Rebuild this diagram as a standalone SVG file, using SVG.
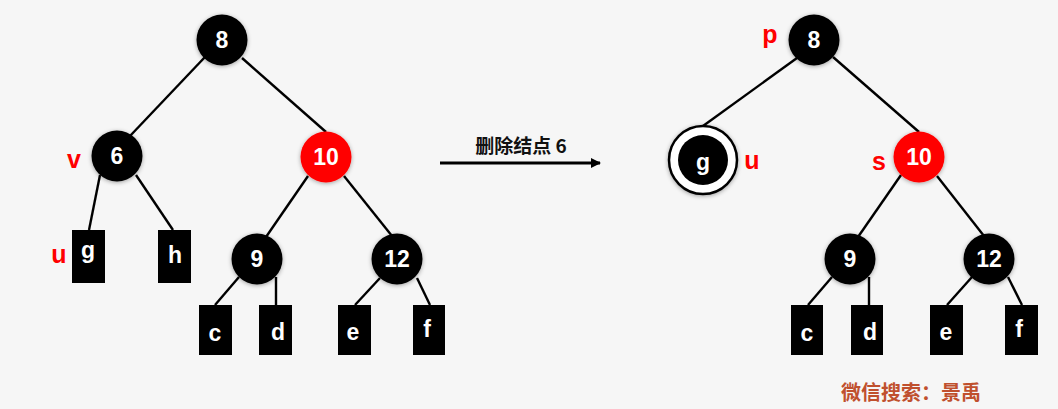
<svg xmlns="http://www.w3.org/2000/svg" width="1058" height="409" viewBox="0 0 1058 409">
<defs>
<style>
.e{stroke:#000;stroke-width:2.4;fill:none}
.n{fill:#000;filter:url(#sh)}
.r{fill:#ff0000;filter:url(#sh)}
.b{fill:#000}
.t{fill:#fff;font-family:"Liberation Sans",Arial,sans-serif;font-size:23px;font-weight:bold;text-anchor:middle;dominant-baseline:central}
.l{fill:#ff0000;font-family:"Liberation Sans",Arial,sans-serif;font-size:25px;font-weight:bold;text-anchor:middle;dominant-baseline:central}
</style>
<filter id="sh" x="-30%" y="-30%" width="160%" height="160%">
<feDropShadow dx="0" dy="1" stdDeviation="2" flood-color="#000" flood-opacity="0.35"/>
</filter>
<marker id="ah" markerWidth="10" markerHeight="10" refX="9" refY="5" orient="auto" markerUnits="userSpaceOnUse">
<path d="M0,0 L10,5 L0,10 z" fill="#000"/>
</marker>
</defs>
<rect width="1058" height="409" fill="#f6f6f6"/>
<g id="connectors">
<line class="e" x1="205" y1="57" x2="130" y2="136"/>
<line class="e" x1="242" y1="58" x2="326" y2="132"/>
<line class="e" x1="100" y1="175" x2="89" y2="230"/>
<line class="e" x1="136" y1="175" x2="173" y2="230"/>
<line class="e" x1="308" y1="176" x2="266" y2="237"/>
<line class="e" x1="344" y1="176" x2="392" y2="236"/>
<line class="e" x1="239" y1="277" x2="215" y2="305"/>
<line class="e" x1="276" y1="277" x2="276" y2="305"/>
<line class="e" x1="380" y1="278" x2="355" y2="305"/>
<line class="e" x1="417" y1="278" x2="430" y2="305"/>
<line class="e" x1="797" y1="58" x2="703" y2="126"/>
<line class="e" x1="833" y1="57" x2="919" y2="132"/>
<line class="e" x1="901" y1="175" x2="858" y2="237"/>
<line class="e" x1="937" y1="176" x2="984" y2="236"/>
<line class="e" x1="832" y1="277" x2="808" y2="305"/>
<line class="e" x1="869" y1="277" x2="869" y2="305"/>
<line class="e" x1="972" y1="277" x2="947" y2="305"/>
<line class="e" x1="1008" y1="277" x2="1022" y2="305"/>
<line x1="440" y1="163" x2="600" y2="163" stroke="#000" stroke-width="3" marker-end="url(#ah)"/>
</g>
<text x="521" y="144" font-family="'Noto Sans CJK SC',sans-serif" font-size="19" font-weight="bold" text-anchor="middle" dominant-baseline="central" fill="#111">删除结点 6</text>
<g id="L8"><circle class="n" cx="222" cy="40" r="25.5"/><text class="t" x="222" y="40">8</text></g>
<g id="L6"><circle class="n" cx="117" cy="156" r="25.5"/><text class="t" x="117" y="156">6</text><text class="l" x="74" y="159">v</text></g>
<g id="L10"><circle class="r" cx="326" cy="157" r="25.5"/><text class="t" x="326" y="157">10</text></g>
<g id="L9"><circle class="n" cx="257" cy="259" r="25.5"/><text class="t" x="257" y="259">9</text></g>
<g id="L12"><circle class="n" cx="397" cy="259" r="25.5"/><text class="t" x="397" y="259">12</text></g>
<g id="Lg"><rect class="b" x="72" y="230" width="33" height="53"/><text class="t" x="88" y="250">g</text><text class="l" x="59" y="254">u</text></g>
<g id="Lh"><rect class="b" x="158" y="230" width="33" height="53"/><text class="t" x="175" y="255">h</text></g>
<g id="Lc"><rect class="b" x="199" y="305" width="33" height="50"/><text class="t" x="215" y="333">c</text></g>
<g id="Ld"><rect class="b" x="259" y="305" width="33" height="50"/><text class="t" x="278" y="332">d</text></g>
<g id="Le"><rect class="b" x="338" y="305" width="33" height="50"/><text class="t" x="353" y="332">e</text></g>
<g id="Lf"><rect class="b" x="413" y="305" width="32" height="50"/><text class="t" x="427" y="329">f</text></g>
<g id="R8"><circle class="n" cx="814" cy="40" r="25.5"/><text class="t" x="814" y="40">8</text><text class="l" x="770" y="34">p</text></g>
<g id="Rg"><circle cx="703" cy="160" r="34" fill="#fff" stroke="#000" stroke-width="2.5" filter="url(#sh)"/><circle class="b" cx="703" cy="160" r="25"/><text class="t" x="703" y="162">g</text><text class="l" x="752" y="160">u</text></g>
<g id="R10"><circle class="r" cx="919" cy="157" r="25.5"/><text class="t" x="919" y="157">10</text><text class="l" x="879" y="161">s</text></g>
<g id="R9"><circle class="n" cx="850" cy="259" r="25.5"/><text class="t" x="850" y="259">9</text></g>
<g id="R12"><circle class="n" cx="989" cy="259" r="25.5"/><text class="t" x="989" y="259">12</text></g>
<g id="Rc"><rect class="b" x="791" y="305" width="32" height="50"/><text class="t" x="807" y="333">c</text></g>
<g id="Rd"><rect class="b" x="851" y="305" width="32" height="50"/><text class="t" x="870" y="332">d</text></g>
<g id="Re"><rect class="b" x="930" y="305" width="33" height="50"/><text class="t" x="946" y="332">e</text></g>
<g id="Rf"><rect class="b" x="1005" y="305" width="33" height="50"/><text class="t" x="1019" y="329">f</text></g>
<text x="911" y="391" font-family="'Noto Sans CJK SC',serif" font-size="20" font-weight="bold" text-anchor="middle" dominant-baseline="central" fill="#c0502e">微信搜索：景禹</text>
</svg>
